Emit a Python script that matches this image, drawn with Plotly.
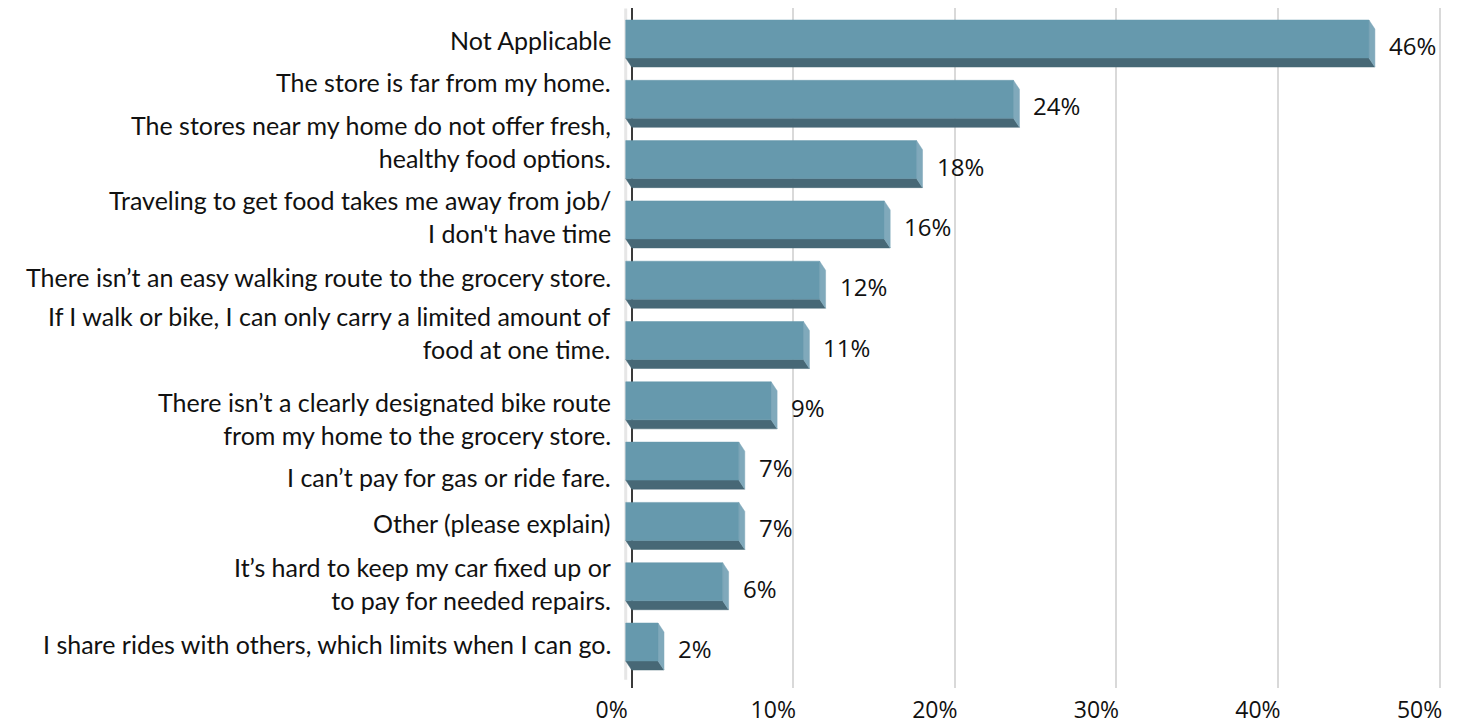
import plotly.graph_objects as go

# Survey responses: barriers to getting food (share of respondents, %)
categories = [
    "Not Applicable",
    "The store is far from my home.",
    "The stores near my home do not offer fresh,<br>healthy food options.",
    "Traveling to get food takes me away from job/<br>I don't have time",
    "There isn\u2019t an easy walking route to the grocery store.",
    "If I walk or bike, I can only carry a limited amount of<br>food at one time.",
    "There isn\u2019t a clearly designated bike route<br>from my home to the grocery store.",
    "I can\u2019t pay for gas or ride fare.",
    "Other (please explain)",
    "It\u2019s hard to keep my car fixed up or<br>to pay for needed repairs.",
    "I share rides with others, which limits when I can go.",
]
values = [46, 24, 18, 16, 12, 11, 9, 7, 7, 6, 2]
x_ticks = [0, 10, 20, 30, 40, 50]
x_tick_labels = ["0%", "10%", "20%", "30%", "40%", "50%"]

# vertical nudge (px) of each category label so wrapped labels do not collide
label_nudge = [4, 22, 23, 8, 8, 13, -13, -11, 3, 3, 3]

# 3-D box geometry (data units): depth shift along x and y
DX = 0.37          # horizontal depth of each box (% units)
HALF = 0.39        # half of the full visible bar thickness (category units)
DY = 0.15          # vertical depth of each box (category units)

FRONT = "#6699ad"
BOTTOM = "#476876"
SIDE = "#80a9bb"

front_x, front_y = [], []
side_x, side_y = [], []
bot_x, bot_y = [], []
for i, v in enumerate(values):
    top = i - HALF
    fb = i + HALF - DY     # front face bottom
    bb = i + HALF          # back bottom
    bt = top + DY          # back top
    # front face
    front_x += [-DX, v - DX, v - DX, -DX, -DX, None]
    front_y += [top, top, fb, fb, top, None]
    # right side face
    side_x += [v - DX, v, v, v - DX, v - DX, None]
    side_y += [top, bt, bb, fb, top, None]
    # bottom face
    bot_x += [-DX, v - DX, v, 0, -DX, None]
    bot_y += [fb, fb, bb, bb, fb, None]

fig = go.Figure()

# left wall edge
fig.add_trace(go.Scatter(
    x=[-DX, -DX], y=[-0.58, len(values) - 1 + HALF + 0.16],
    mode="lines", line=dict(color="#e6e6e6", width=3),
    hoverinfo="skip", showlegend=False,
))

for xs, ys, col in [(bot_x, bot_y, BOTTOM), (side_x, side_y, SIDE), (front_x, front_y, FRONT)]:
    fig.add_trace(go.Scatter(
        x=xs, y=ys, mode="lines", fill="toself", fillcolor=col,
        line=dict(color=col, width=0.5), hoverinfo="skip", showlegend=False,
    ))

# value labels next to each box
for i, v in enumerate(values):
    fig.add_annotation(
        x=v, y=i, text=f"{v}%", showarrow=False,
        xanchor="left", yanchor="middle", xshift=12, yshift=-2,
        font=dict(family="Open Sans", size=24, color="#111111"),
    )

# category labels, right-aligned against the plot
for i, (lab, dy) in enumerate(zip(categories, label_nudge)):
    fig.add_annotation(
        x=0, xref="paper", y=i, yref="y", text=lab, showarrow=False,
        xanchor="right", yanchor="middle", align="right",
        xshift=-9, yshift=dy,
        font=dict(family="Lato", size=25, color="#111111"),
    )

fig.update_layout(
    width=1460, height=727,
    margin=dict(l=622, r=14, t=8, b=39),
    paper_bgcolor="white", plot_bgcolor="white",
    font=dict(family="Lato", color="#111111"),
    xaxis=dict(
        range=[-0.6, 50.4], automargin=False,
        tickvals=x_ticks, ticktext=x_tick_labels,
        showgrid=True, gridcolor="#d9d9d9", gridwidth=2,
        zeroline=True, zerolinecolor="#3a3a3a", zerolinewidth=2,
        showline=False, ticks="",
        tickfont=dict(family="Open Sans", size=23, color="#111111"),
        ticklabelshift=-20, ticklabelstandoff=6,
    ),
    yaxis=dict(
        range=[len(values) - 1 + 0.688, -0.589], automargin=False,
        showticklabels=False,
        showgrid=False, zeroline=False, showline=False, ticks="",
    ),
)

fig.write_html("out.html")
